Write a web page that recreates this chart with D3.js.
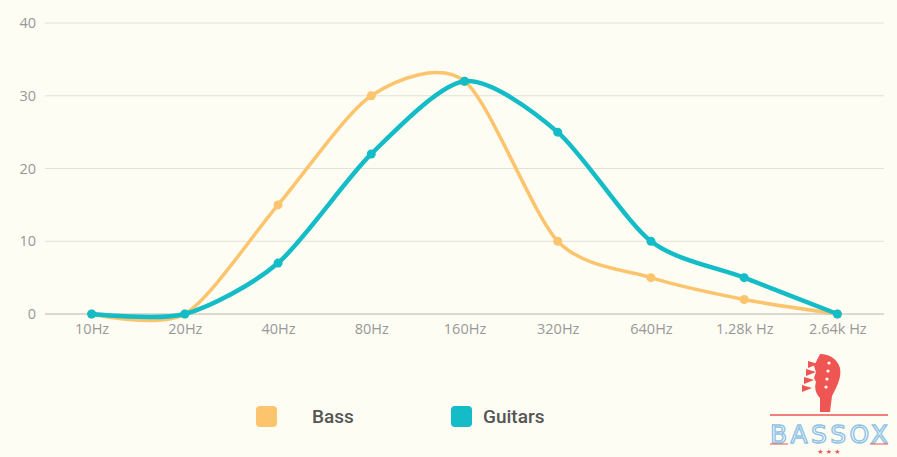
<!DOCTYPE html>
<html>
<head>
  <style>
    body {
      margin: 0;
      background: #fdfdf4;
    }
    svg { display: block; }
    .tick text {
      font-family: "Open Sans", sans-serif;
      font-size: 14.5px;
      fill: #999;
    }
    .legend text {
      font-family: Roboto, "Liberation Sans", sans-serif;
      font-size: 19px;
      font-weight: 500;
      fill: #555;
    }
  </style>
</head>
<body>
  <div id="chart"></div>
  <script src="https://d3js.org/d3.v7.min.js"></script>
  <script>
    var width = 897, height = 457;

    var categories = ["10Hz", "20Hz", "40Hz", "80Hz", "160Hz", "320Hz", "640Hz", "1.28k Hz", "2.64k Hz"];
    var bass = [0, 0, 15, 30, 32, 10, 5, 2, 0];
    var guitars = [0, 0, 7, 22, 32, 25, 10, 5, 0];
    var yTicks = [0, 10, 20, 30, 40];

    var series = [
      {name: "Bass", values: bass, colour: "#fcc46c", width: 3.5},
      {name: "Guitars", values: guitars, colour: "#13bcc6", width: 4.5}
    ];

    var svg = d3.select("#chart").append("svg")
        .attr("width", width)
        .attr("height", height);

    var x = d3.scalePoint().domain(categories).range([45, 884]).padding(0.5);
    var y = d3.scaleLinear().domain([0, 40]).range([314, 23]);

    // grid lines
    svg.append("g")
      .selectAll("line")
      .data(yTicks)
      .enter().append("line")
        .attr("x1", 45).attr("x2", 884)
        .attr("y1", d => y(d)).attr("y2", d => y(d))
        .attr("stroke", d => d === 0 ? "#b8b8b0" : "#e2e2da")
        .attr("stroke-width", 1);

    // y axis labels
    var yAxis = svg.append("g")
        .attr("transform", "translate(36,0)")
        .call(d3.axisLeft(y).tickValues(yTicks).tickSize(0).tickPadding(0));
    yAxis.select(".domain").remove();

    // x axis labels
    var xAxis = svg.append("g")
        .attr("transform", "translate(0,314)")
        .call(d3.axisBottom(x).tickSize(0).tickPadding(10));
    xAxis.select(".domain").remove();

    var line = d3.line()
        .x((d, i) => x(categories[i]))
        .y(d => y(d))
        .curve(d3.curveCardinal.tension(0.2));

    var groups = svg.selectAll(".series")
        .data(series)
      .enter().append("g")
        .attr("class", "series");

    groups.append("path")
        .attr("d", d => line(d.values))
        .attr("fill", "none")
        .attr("stroke", d => d.colour)
        .attr("stroke-width", d => d.width)
        .attr("stroke-linecap", "round");

    groups.selectAll("circle")
        .data(d => d.values.map((v, i) => ({v: v, i: i, colour: d.colour})))
      .enter().append("circle")
        .attr("cx", d => x(categories[d.i]))
        .attr("cy", d => y(d.v))
        .attr("r", 4.5)
        .attr("fill", d => d.colour);

    // legend
    var legend = svg.append("g").attr("class", "legend");
    var legendX = [256, 451];
    series.forEach((s, i) => {
      legend.append("rect")
        .attr("x", legendX[i]).attr("y", 406)
        .attr("width", 21).attr("height", 21)
        .attr("rx", 4)
        .attr("fill", s.colour);
      legend.append("text")
        .attr("x", legendX[i] + (i === 0 ? 56 : 32))
        .attr("y", 423)
        .text(s.name);
    });

    // logo
    var logo = svg.append("g").attr("transform", "translate(770,352)");
    logo.append("path")
      .attr("d", "M50,2 C60,2 68,8 70,16 C72,26 66,36 62,44 L60,60 L50,60 L50,46 C46,42 44,36 46,30 L44,26 L46,20 L44,14 L47,8 Z")
      .attr("fill", "#ee5553");
    [[40, 12], [38, 20], [36, 28], [34, 36]].forEach(p => {
      logo.append("path")
        .attr("d", "M" + (p[0] + 8) + "," + p[1] + " l-10,-3 l0,7 Z")
        .attr("fill", "#ee5553");
    });
    [[59, 11], [58, 19], [57, 27], [56, 35]].forEach(p => {
      logo.append("circle").attr("cx", p[0]).attr("cy", p[1]).attr("r", 1.6)
        .attr("fill", "#fdfdf4");
    });
    logo.append("line").attr("x1", 0).attr("x2", 118).attr("y1", 63).attr("y2", 63)
      .attr("stroke", "#ee5553").attr("stroke-width", 1.5);
    logo.append("text")
      .attr("x", 59).attr("y", 91)
      .attr("text-anchor", "middle")
      .attr("font-family", "DejaVu Sans, sans-serif")
      .attr("font-size", 25)
      .attr("fill", "none")
      .attr("stroke", "#8fc2e6")
      .attr("stroke-width", 1.4)
      .attr("textLength", 118)
      .text("BASSOX");
    logo.append("line").attr("x1", 0).attr("x2", 18).attr("y1", 92).attr("y2", 92)
      .attr("stroke", "#ee5553").attr("stroke-width", 1);
    logo.append("line").attr("x1", 100).attr("x2", 118).attr("y1", 92).attr("y2", 92)
      .attr("stroke", "#ee5553").attr("stroke-width", 1);
    logo.append("text")
      .attr("x", 59).attr("y", 102)
      .attr("text-anchor", "middle")
      .attr("font-family", "DejaVu Sans, sans-serif")
      .attr("font-size", 7)
      .attr("fill", "#ee5553")
      .text("★ ★ ★");
  </script>
</body>
</html>
